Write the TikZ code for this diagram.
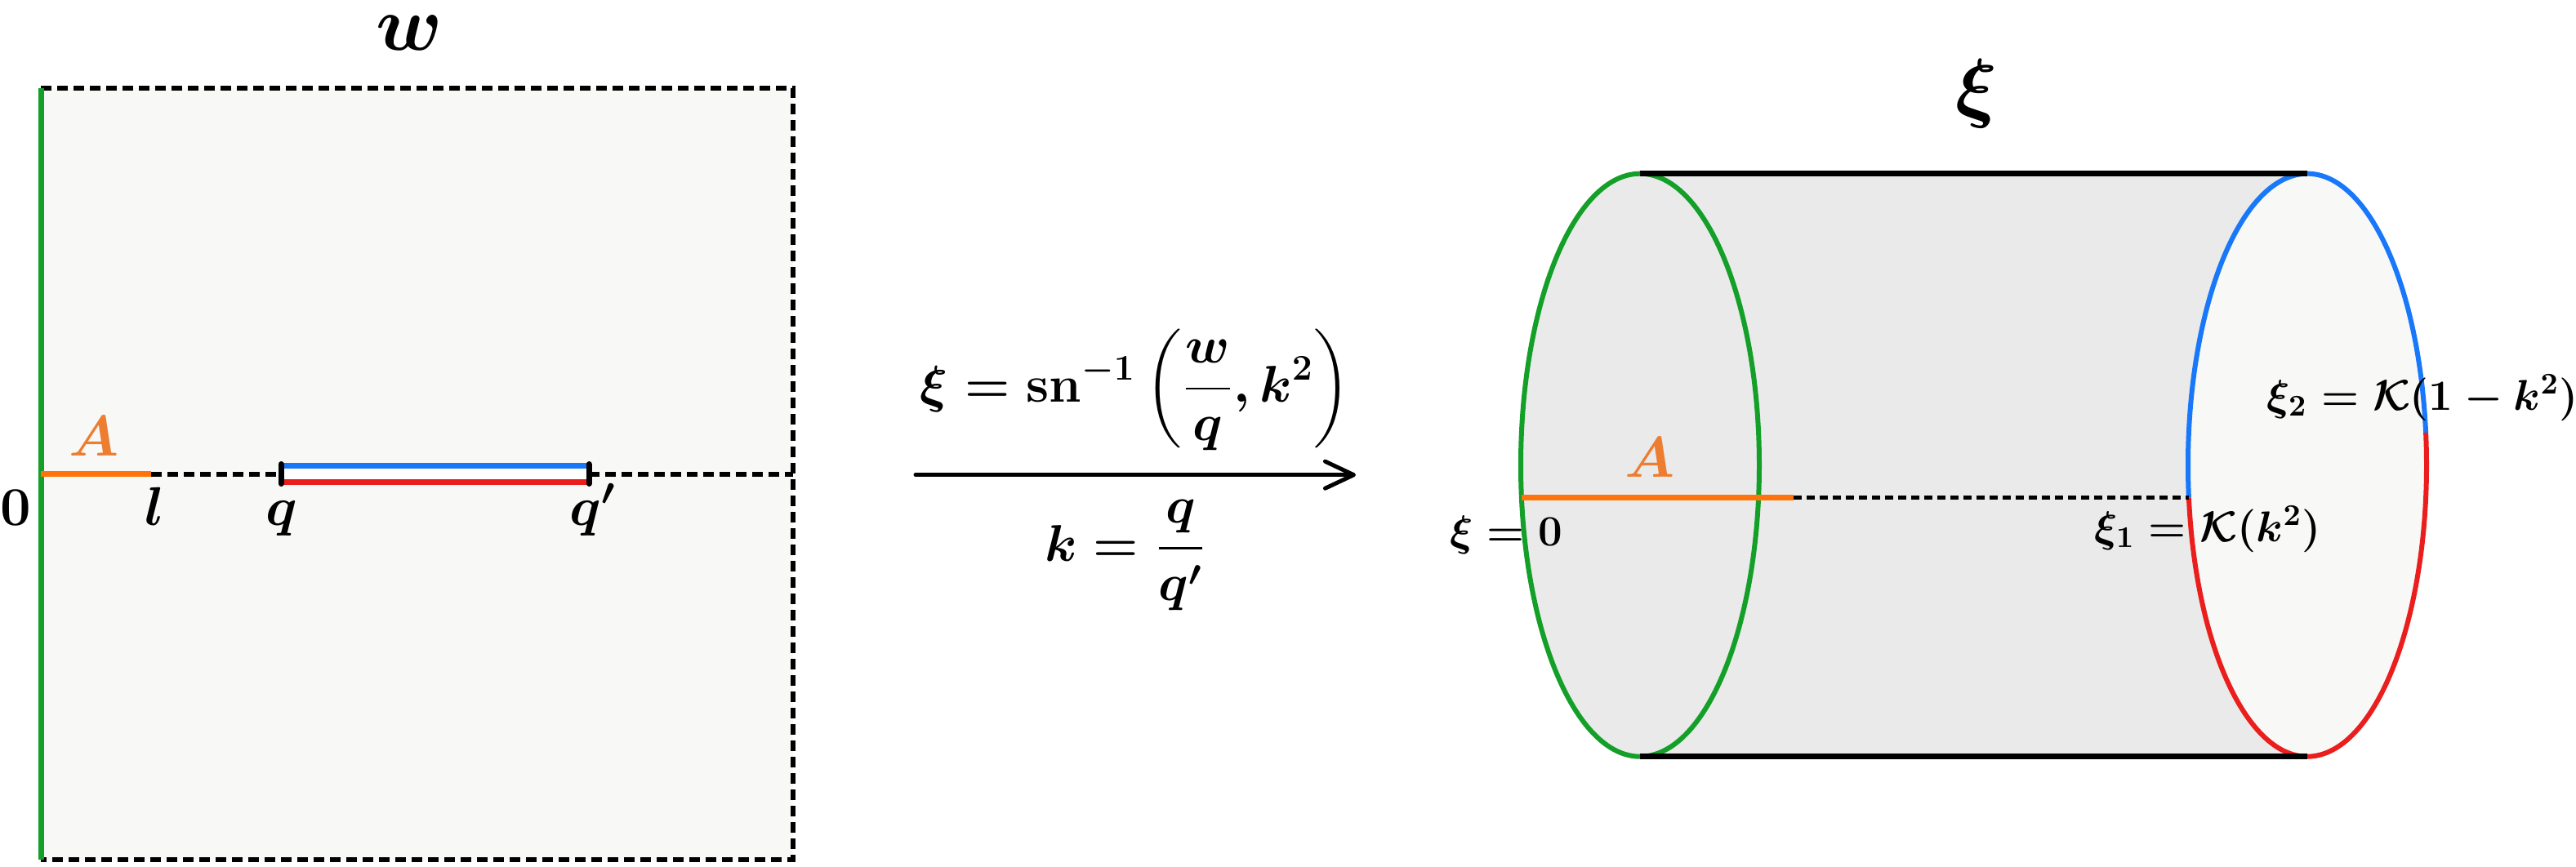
\RequirePackage{fix-cm}
\documentclass[tikz,border=0pt]{standalone}
\usepackage{amsmath,bm}
\usetikzlibrary{arrows.meta}
\definecolor{cgreen}{RGB}{20,160,40}
\definecolor{corange}{RGB}{255,115,10}
\definecolor{clabel}{RGB}{237,125,49}
\definecolor{cblue}{RGB}{25,120,250}
\definecolor{cred}{RGB}{235,30,30}
\definecolor{sqfill}{RGB}{248,248,246}
\definecolor{bodyfill}{RGB}{234,234,234}
\begin{document}
\begin{tikzpicture}[
  lbl/.style={inner sep=0pt, font=\fontsize{19}{22}\selectfont\boldmath},
  clbl/.style={inner sep=0pt, font=\fontsize{15}{18}\selectfont\boldmath},
  ttl/.style={inner sep=0pt, font=\fontsize{27}{32}\selectfont\boldmath},
  frm/.style={inner sep=0pt, font=\fontsize{18}{22}\selectfont\boldmath},
  alab/.style={inner sep=0pt, text=clabel, font=\fontsize{20}{24}\selectfont\boldmath},
  thk/.style={line width=0.07cm},
  dashbox/.style={line width=0.06cm, dash pattern=on 0.13cm off 0.07cm},
  dashfine/.style={line width=0.055cm, dash pattern=on 0.1cm off 0.06cm},
  elli/.style={line width=0.06cm},
]
\useasboundingbox (0,0) rectangle (31.54,10.61);

% ---------- left panel (w plane) ----------
\fill[sqfill] (0.50,0.08) rectangle (9.71,9.53);
\coordinate (sqtl) at (0.50,9.53);
\coordinate (sqtr) at (9.71,9.53);
\coordinate (sqbr) at (9.71,0.08);
\coordinate (sqbl) at (0.50,0.08);
\draw[dashbox] (sqtl) -- (sqtr) -- (sqbr) -- (sqbl);
\draw[cgreen, thk] (sqbl) -- (sqtl);

\coordinate (O) at (0.50,4.805);
\coordinate (L) at (1.85,4.805);
\coordinate (Q) at (3.44,4.805);
\coordinate (Qp) at (7.21,4.805);
\coordinate (E) at (9.71,4.805);
\draw[dashbox] (L) -- (Q);
\draw[dashbox] (Qp) -- (E);
\draw[corange, thk] (O) -- (L);
\fill[white] (3.44,4.705) rectangle (7.21,4.905);
\draw[cblue, line width=0.07cm] ([yshift=1mm]Q) -- ([yshift=1mm]Qp);
\draw[cred, line width=0.07cm] ([yshift=-1mm]Q) -- ([yshift=-1mm]Qp);
\draw[thk, line cap=round] ([yshift=-1.2mm]Q) -- ([yshift=1.2mm]Q);
\draw[thk, line cap=round] ([yshift=-1.2mm]Qp) -- ([yshift=1.2mm]Qp);

\node[ttl, anchor=base] (wt) at (5.01,10.0) {$w$};
\node[alab, anchor=base] (Aw) at (1.15,5.03) {$A$};
\node[lbl, anchor=base] (zero) at (0.19,4.18) {$0$};
\node[lbl, anchor=base] (ll) at (1.89,4.18) {$l$};
\node[lbl, anchor=base west] (qq) at (3.25,4.18) {$q$};
\node[lbl, anchor=base west] (qqp) at (6.97,4.18) {$q'$};

% ---------- map ----------
\coordinate (as) at (11.21,4.793);
\coordinate (ae) at (16.60,4.793);
\draw[line width=0.05cm, line cap=round, -{Straight Barb[length=0.35cm, width=0.33cm, round]}] (as) -- (ae);
\node[frm, anchor=base] (f1) at (13.90,5.69) {$\displaystyle \xi=\textbf{sn}^{-1}\left(\frac{w}{q},k^{2}\right)$};
\node[frm, anchor=base] (f2) at (13.78,3.735) {$\displaystyle k=\frac{q}{q'}$};

% ---------- right panel (cylinder) ----------
\coordinate (lc) at (20.08,4.913);
\coordinate (rc) at (28.25,4.913);
\coordinate (lt) at (20.08,8.483);
\coordinate (rt) at (28.25,8.483);
\coordinate (lb) at (20.08,1.343);
\coordinate (rb) at (28.25,1.343);
\fill[bodyfill] (lt) rectangle (rb);
\fill[bodyfill] (lc) ellipse [x radius=1.46, y radius=3.57];
\fill[sqfill] (rc) ellipse [x radius=1.46, y radius=3.57];
\draw[cgreen, elli] (lc) ellipse [x radius=1.46, y radius=3.57];
\draw[cblue, elli] (rc) ++(6.4:1.46 and 3.57) arc [start angle=6.4, end angle=186.4, x radius=1.46, y radius=3.57];
\draw[cred, elli] (rc) ++(186.4:1.46 and 3.57) arc [start angle=186.4, end angle=366.4, x radius=1.46, y radius=3.57];
\draw[thk] (lt) -- (rt);
\draw[thk] (lb) -- (rb);

\coordinate (ca) at (18.629,4.515);
\coordinate (cb) at (21.96,4.515);
\coordinate (cc) at (26.799,4.515);
\draw[dashfine] (cb) -- (cc);
\draw[corange, thk] (ca) -- (cb);

\node[ttl, anchor=base] (xt) at (24.20,9.23) {$\xi$};
\node[alab, anchor=base] (Ac) at (20.20,4.77) {$A$};
\node[clbl, anchor=base] (x0) at (18.44,3.93) {$\xi=0$};
\node[clbl, anchor=base] (x1) at (27.03,3.98) {$\xi_1=\mathcal{K}(k^{2})$};
\node[clbl, anchor=base] (x2) at (29.66,5.59) {$\xi_2=\mathcal{K}(1-k^{2})$};
\end{tikzpicture}
\end{document}
